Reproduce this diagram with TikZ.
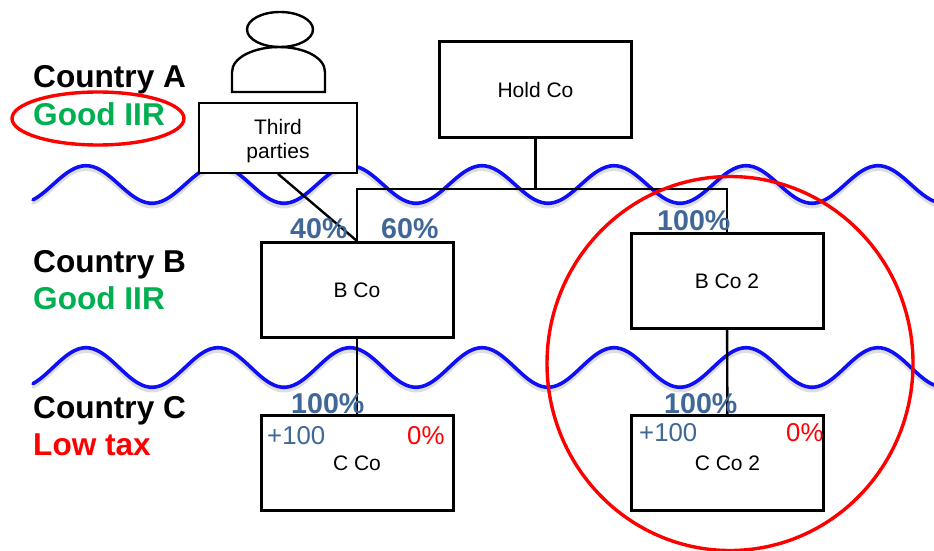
\documentclass[tikz,border=0pt]{standalone}
\usepackage{xcolor}
\usepackage{fontspec}
\setmainfont{Liberation Sans}
\usetikzlibrary{calc}
\definecolor{wavecol}{HTML}{0F0FF5}
\definecolor{pctcol}{HTML}{3F6797}
\definecolor{iircol}{HTML}{00B050}
\tikzset{
 cobox/.style={draw=black, line width=3, fill=white, minimum width=192, minimum height=95, inner sep=0, font=\fontsize{21}{24}\selectfont},
 country/.style={anchor=base west, inner sep=0, font=\fontsize{31.6}{36}\selectfont\bfseries},
 pct/.style={anchor=base west, inner sep=0, text=pctcol, font=\fontsize{28.6}{32}\selectfont\bfseries},
 small/.style={anchor=base west, inner sep=0, font=\fontsize{25.8}{30}\selectfont},
 link/.style={black, line width=2.4},
}
\begin{document}
\begin{tikzpicture} [x=1pt,y=-1pt]
\useasboundingbox (0,0) rectangle (934,551);
% borders between the countries
\foreach \y/\a in {184.5/18.8,367.5/19.8} {
 \draw[black!13, line width=3.4, line cap=round] plot[domain=33:934, samples=240, smooth] (\x,{\y+3.5-\a*cos((\x-86)*2.72727)});
 \draw[wavecol, line width=3.6, line cap=round] plot[domain=33:934, samples=240, smooth] (\x,{\y-\a*cos((\x-86)*2.72727)});
}
% companies
\node[cobox] (hold) at (535.5,89.5) {Hold Co};
\node[cobox, line width=1.8, minimum width=158, minimum height=70, align=center] (third) at (278,138) {\rule{0pt}{21pt}Third\\parties};
\node[cobox] (bco) at (357,290) {B Co};
\node[cobox] (bcotwo) at (727,281) {B Co 2};
\node[cobox] (cco) at (357,463) {C Co};
\node[cobox] (ccotwo) at (727.5,463) {C Co 2};
% third party shareholder
\draw[black, line width=2.4] (280,29.5) ellipse [x radius=33, y radius=17.5];
\draw[black, line width=2.4] (232,92)--(232,72) .. controls (232,57) and (255,47) .. (279,47) .. controls (303,47) and (325,57) .. (325,72)--(325,92)--cycle;
% ownership lines
\coordinate (bus) at (535.5,189);
\draw[link] (hold) -- (bus);
\draw[link] (bus) -| (bco.north);
\draw[link] (bus) -| (bcotwo.north);
\draw[link] (third.south) -- (bco.north);
\draw[link] (bco) -- (cco);
\draw[link] (bcotwo) -- (ccotwo);
% labels on the left
\node[country] (ca) at (33,88) {Country A};
\node[country, text=iircol] (ga) at (33,125) {Good IIR};
\node[country] (cb) at (33,272) {Country B};
\node[country, text=iircol] (gb) at (33,309) {Good IIR};
\node[country] (cc) at (33,418) {Country C};
\node[country, text=red] (lt) at (33,455) {Low tax};
% percentages
\node[pct] (pa) at (290,238) {40\%};
\node[pct] (pb) at (381,238) {60\%};
\node[pct] (pc) at (657,230) {100\%};
\node[pct] (pd) at (291,413) {100\%};
\node[pct] (pe) at (664,413) {100\%};
\node[small, text=pctcol] (ia) at (267,444) {+100};
\node[small, text=red] (ra) at (407,444) {0\%};
\node[small, text=pctcol] (ib) at (639,441) {+100};
\node[small, text=red] (rb) at (786,441) {0\%};
% red marks
\draw[red, line width=3.4] (98,118.5) ellipse [x radius=86, y radius=26.5];
\draw[red, line width=3.4] (730,363.5) ellipse [x radius=183, y radius=187];
\end{tikzpicture}
\end{document}
